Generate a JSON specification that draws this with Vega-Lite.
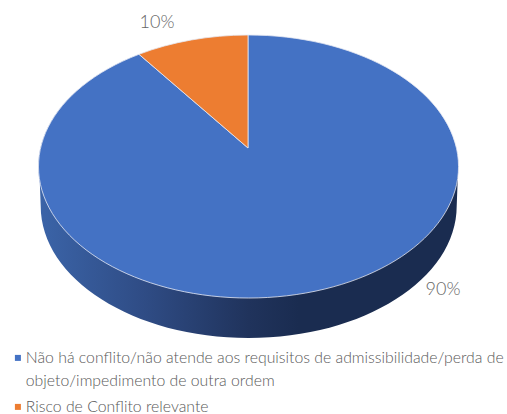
{
  "$schema": "https://vega.github.io/schema/vega-lite/v6.json",
  "width": 507,
  "height": 414,
  "padding": 0,
  "autosize": "none",
  "background": "white",
  "config": {"view": {"stroke": null}, "style": {"guide-label": {"lineHeight": 23}}},
  "data": {"values": [
    {"segment": "Não há conflito/não atende aos requisitos de admissibilidade/perda de objeto/impedimento de outra ordem", "share": 90},
    {"segment": "Risco de Conflito relevante", "share": 10}
  ]},
  "encoding": {
    "x": {"datum": 248.7, "type": "quantitative", "axis": null, "scale": {"domain": [0, 507], "nice": false, "zero": false}},
    "y": {"datum": 166.5, "type": "quantitative", "axis": null, "scale": {"domain": [0, 414], "nice": false, "zero": false, "reverse": true}}
  },
  "layer": [
    {
      "transform": [{"filter": "datum.share == 90"}],
      "mark": {
        "type": "point",
        "filled": true,
        "opacity": 1,
        "size": 4,
        "shape": "M -209.5 0 L -208 39.5 A 208 132 0 0 0 208 39.5 L 209.5 0 Z",
        "color": {
          "gradient": "linear", "x1": 0, "y1": 0, "x2": 1, "y2": 0,
          "stops": [
            {"offset": 0, "color": "#3b64a8"},
            {"offset": 0.25, "color": "#2f4c85"},
            {"offset": 0.5, "color": "#20335c"},
            {"offset": 0.62, "color": "#1a2c50"},
            {"offset": 1, "color": "#1a2c50"}
          ]
        }
      }
    },
    {
      "transform": [{"filter": "datum.share == 90"}],
      "mark": {
        "type": "point",
        "filled": true,
        "opacity": 1,
        "size": 4,
        "stroke": "#e6e9f2",
        "strokeWidth": 0.8,
        "color": "#4472c4",
        "shape": "M -0.7 -18.5 L -0.7 -131.5 A 210 131.5 0 1 1 -109.7 -112.2 Z"
      }
    },
    {
      "transform": [{"filter": "datum.share == 10"}],
      "mark": {
        "type": "point",
        "filled": true,
        "opacity": 1,
        "size": 4,
        "stroke": "#e6e9f2",
        "strokeWidth": 0.8,
        "color": "#ed7d31",
        "shape": "M -0.7 -18.5 L -109.7 -112.2 A 210 131.5 0 0 1 -0.7 -131.5 Z"
      }
    },
    {
      "mark": {"type": "point", "filled": true, "opacity": 1, "size": 0, "shape": "square"},
      "encoding": {
        "color": {
          "field": "segment",
          "type": "nominal",
          "scale": {
            "domain": [
              "Não há conflito/não atende aos requisitos de admissibilidade/perda de objeto/impedimento de outra ordem",
              "Risco de Conflito relevante"
            ],
            "range": ["#4472c4", "#ed7d31"]
          },
          "legend": {
            "orient": "none",
            "legendX": 10,
            "legendY": 350,
            "padding": 0,
            "title": null,
            "symbolType": "square",
            "symbolSize": 36,
            "symbolStrokeWidth": 0,
            "labelFont": "Lato",
            "labelFontWeight": 300,
            "labelFontSize": 15.8,
            "labelColor": "#595959",
            "labelLimit": 0,
            "labelOffset": 0,
            "rowPadding": 9,
            "labelExpr": "length(datum.label) > 60 ? [slice(datum.label, 0, 69), slice(datum.label, 70)] : datum.label"
          }
        }
      }
    },
    {
      "mark": {"type": "text", "font": "Lato", "fontWeight": 300, "fontSize": 18, "color": "#666666"},
      "encoding": {
        "x": {"datum": 443, "type": "quantitative"},
        "y": {"datum": 290, "type": "quantitative"},
        "text": {"value": "90%"}
      },
      "transform": [{"filter": "datum.share == 90"}]
    },
    {
      "mark": {"type": "text", "font": "Lato", "fontWeight": 300, "fontSize": 18, "color": "#666666"},
      "encoding": {
        "x": {"datum": 157, "type": "quantitative"},
        "y": {"datum": 23, "type": "quantitative"},
        "text": {"value": "10%"}
      },
      "transform": [{"filter": "datum.share == 10"}]
    }
  ]
}
